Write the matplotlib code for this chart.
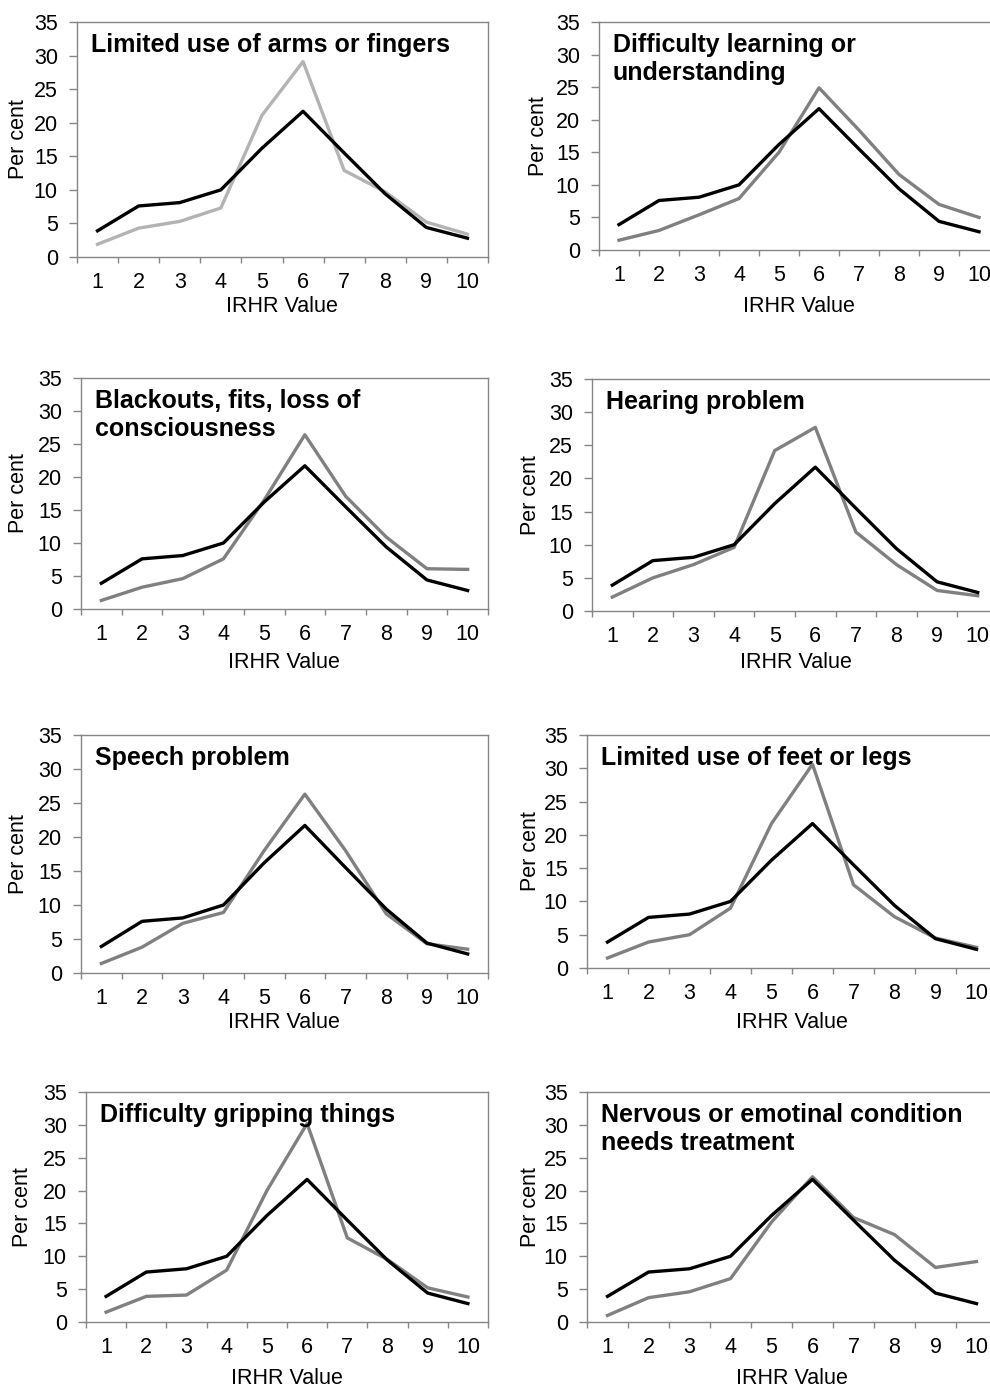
import numpy as np
import matplotlib
matplotlib.use("Agg")
import matplotlib.pyplot as plt
from matplotlib.ticker import FixedLocator, NullFormatter

plt.rcParams['font.family'] = ['Liberation Sans', 'DejaVu Sans']

irhr = [1, 2, 3, 4, 5, 6, 7, 8, 9, 10]

# all-respondents distribution (black line, same in every panel)
overall = [3.9, 7.6, 8.1, 10.0, 16.2, 21.7, 15.5, 9.4, 4.4, 2.8]

titles = [
    "Limited use of arms or fingers",
    "Difficulty learning or\nunderstanding",
    "Blackouts, fits, loss of\nconsciousness",
    "Hearing problem",
    "Speech problem",
    "Limited use of feet or legs",
    "Difficulty gripping things",
    "Nervous or emotinal condition\nneeds treatment",
]

arms_fingers = [1.9, 4.3, 5.3, 7.3, 21.1, 29.1, 12.9, 9.7, 5.2, 3.4]
learning = [1.5, 3.0, 5.4, 7.9, 15.0, 24.9, 18.4, 11.6, 7.0, 5.0]
blackouts = [1.3, 3.3, 4.6, 7.6, 16.5, 26.4, 17.1, 10.9, 6.1, 6.0]
hearing = [2.1, 5.0, 7.0, 9.6, 24.2, 27.7, 11.9, 7.0, 3.1, 2.3]
speech = [1.4, 3.8, 7.3, 8.9, 18.0, 26.3, 18.0, 8.7, 4.3, 3.5]
feet_legs = [1.5, 3.9, 5.0, 9.0, 21.7, 30.6, 12.5, 7.7, 4.5, 3.1]
gripping = [1.5, 3.9, 4.1, 7.9, 20.0, 30.2, 12.8, 9.5, 5.2, 3.8]
nervous = [1.0, 3.7, 4.6, 6.6, 15.2, 22.1, 15.9, 13.3, 8.3, 9.2]

groups = [arms_fingers, learning, blackouts, hearing, speech, feet_legs, gripping, nervous]

yticks = [0, 5, 10, 15, 20, 25, 30, 35]

# panel boxes in pixels: left, right, top, bottom
boxes = [
    (77, 488, 22, 257), (599, 999, 22, 250),
    (81, 488, 378, 609), (592, 998, 379, 611),
    (81, 488, 735, 973), (587, 997, 735, 968),
    (86, 488, 1092, 1322), (587, 997, 1092, 1322),
]
ylab_x = [18, 538, 18, 530, 18, 530, 23, 530]
xlab_x = [282, 799, 284, 796, 284, 792, 287, 792]
xlab_dy = [50, 57, 54, 52, 50, 54, 56, 56]

W, H = 990, 1387
fig = plt.figure(figsize=(W / 100, H / 100), dpi=100)
frame = "#868686"
fs = 15.5

for i, (vals, title) in enumerate(zip(groups, titles)):
    l, r, t, b = boxes[i]
    ax = fig.add_axes([l / W, 1 - b / H, (r - l) / W, (b - t) / H])
    ax.plot(irhr, overall, color="black", lw=2.4, zorder=3)
    gcol = "#b3b3b3" if i == 0 else "#808080"
    ax.plot(irhr, vals, color=gcol, lw=2.4, zorder=2)
    ax.set_xlim(0.5, 10.5)
    ax.set_ylim(0, 35)
    ax.set_yticks(yticks)
    ax.set_xticks(irhr)
    ax.xaxis.set_minor_locator(FixedLocator(np.arange(0.5, 11, 1)))
    ax.xaxis.set_minor_formatter(NullFormatter())
    ax.tick_params(axis="x", which="major", length=0, pad=11, labelsize=fs)
    ax.tick_params(axis="x", which="minor", length=4.5, color=frame, width=1)
    ax.tick_params(axis="y", length=5.8, color=frame, width=1, pad=8, labelsize=fs)
    for s in ax.spines.values():
        s.set_color(frame)
        s.set_linewidth(1)
    ax.set_ylabel("Per cent", fontsize=fs)
    ax.yaxis.set_label_coords((ylab_x[i] - l) / (r - l), 0.5)
    ax.yaxis.label.set_va("center")
    ax.set_xlabel("IRHR Value", fontsize=fs)
    ax.xaxis.label.set_va("center")
    ax.xaxis.set_label_coords((xlab_x[i] - l) / (r - l), -xlab_dy[i] / (b - t))
    ax.annotate(title, xy=(0, 1), xycoords="axes fraction", xytext=(10, -8),
                textcoords="offset points", ha="left", va="top",
                fontsize=18, fontweight="bold", linespacing=1.18)

fig.savefig("out.png", dpi=100)
